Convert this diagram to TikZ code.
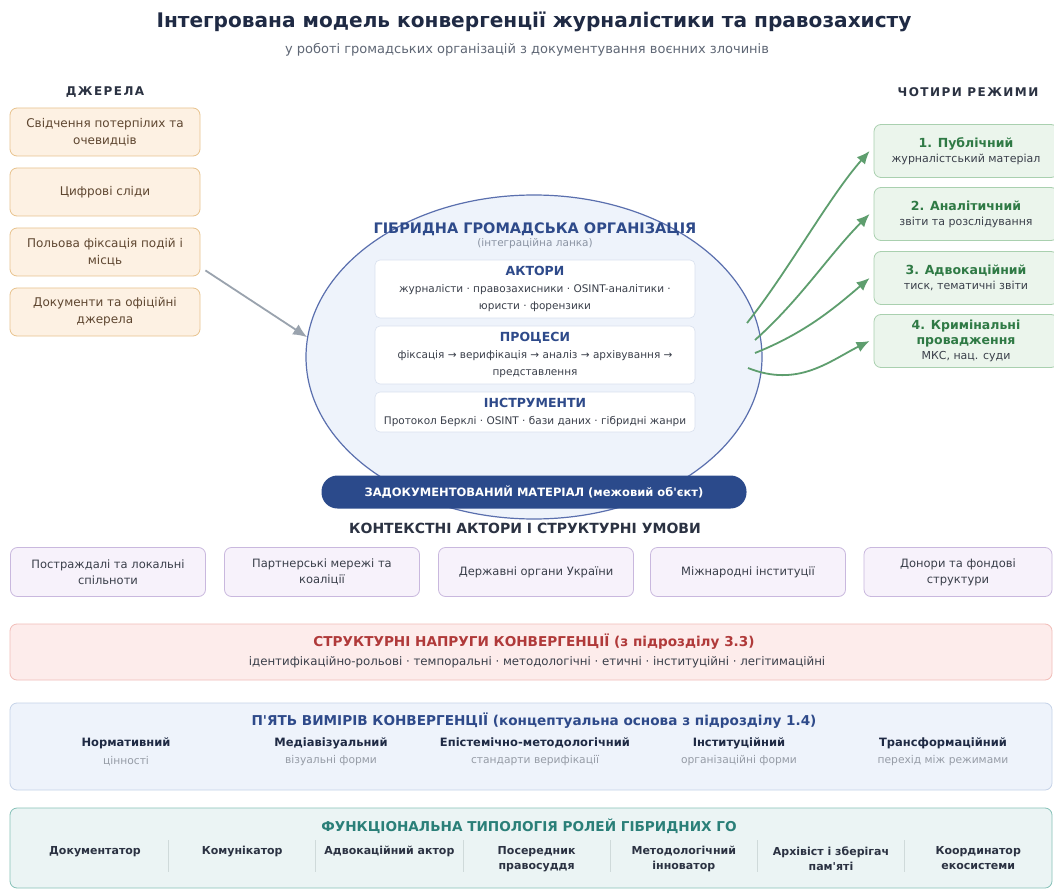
\documentclass[tikz,border=0pt]{standalone}
\usepackage{fontspec}
\setmainfont{DejaVu Sans}
\newfontfamily\spacedfont[LetterSpace=12]{DejaVu Sans}
\usetikzlibrary{shapes.geometric,arrows.meta,positioning}
\definecolor{titlenavy}{HTML}{1F2A44}
\definecolor{subgray}{HTML}{5F6775}
\definecolor{headdark}{HTML}{2B3242}
\definecolor{srcfill}{HTML}{FDF1E3}
\definecolor{srcline}{HTML}{E8C38E}
\definecolor{srctext}{HTML}{5E4630}
\definecolor{arrowgray}{HTML}{9AA3AE}
\definecolor{hubfill}{HTML}{EEF3FB}
\definecolor{hubline}{HTML}{5A6FAE}
\definecolor{hubblue}{HTML}{2E4A8A}
\definecolor{hubgray}{HTML}{8A93A3}
\definecolor{cardline}{HTML}{D8E0EE}
\definecolor{pillblue}{HTML}{2B4A8B}
\definecolor{modefill}{HTML}{EBF5EC}
\definecolor{modeline}{HTML}{A9D0AF}
\definecolor{modegreen}{HTML}{2F7A45}
\definecolor{arrowgreen}{HTML}{5E9E6E}
\definecolor{ctxfill}{HTML}{F7F2FB}
\definecolor{ctxline}{HTML}{C9B8DE}
\definecolor{tensfill}{HTML}{FDECEB}
\definecolor{tensline}{HTML}{F1BDB8}
\definecolor{tensred}{HTML}{B03A3A}
\definecolor{dimfill}{HTML}{EEF3FB}
\definecolor{dimline}{HTML}{C6D3E8}
\definecolor{dimgray}{HTML}{969CA6}
\definecolor{typofill}{HTML}{EBF4F4}
\definecolor{typoline}{HTML}{86C1B8}
\definecolor{typoteal}{HTML}{2A7F78}
\definecolor{sepgray}{HTML}{CFDADA}
\definecolor{bodytext}{HTML}{3A3F4A}
\newcommand{\fsz}[2]{\fontsize{#1}{#2}\selectfont}
\newcommand{\modetitle}{\bfseries\fsz{12.5}{16}\color{modegreen}}

\begin{document}
\begin{tikzpicture}[x=1pt,y=-1pt,
    srcbox/.style={draw=srcline,fill=srcfill,line width=0.8pt,rounded corners=7pt,
      minimum width=190pt,minimum height=48pt,align=center,text=srctext,font=\fsz{12}{17}},
    card/.style={draw=cardline,fill=white,line width=0.6pt,rounded corners=5pt,
      minimum width=320pt,align=center,text=bodytext,font=\fsz{10.5}{17}},
    modebox/.style={draw=modeline,fill=modefill,line width=0.8pt,rounded corners=7pt,
      minimum width=184pt,minimum height=53pt,align=center,text=bodytext,font=\fsz{11}{15}},
    ctxbox/.style={draw=ctxline,fill=ctxfill,line width=0.8pt,rounded corners=7pt,
      minimum height=49pt,align=center,text=bodytext,font=\fsz{11.5}{16}},
    band/.style={line width=0.8pt,rounded corners=7pt,minimum width=1042pt},
    seclabel/.style={font=\spacedfont\bfseries\fsz{12}{14},text=headdark},
    bandtitle/.style={font=\bfseries\fsz{13.6}{16}},
    flowin/.style={draw=arrowgray,line width=1.8pt,-{Latex[length=14pt,width=12pt]}},
    flowout/.style={draw=arrowgreen,line width=1.8pt,-{Latex[length=13pt,width=11pt]}}]
  \clip (0,0) rectangle (1054,890);
  \fill[white] (0,0) rectangle (1054,890);

  \node[font=\bfseries\fsz{20.1}{23},text=titlenavy] (title) at (534,22)
    {Інтегрована модель конвергенції журналістики та правозахисту};
  \node[font=\fsz{13}{15},text=subgray] (subtitle) at (527,50)
    {у роботі громадських організацій з документування воєнних злочинів};

  % sources
  \node[seclabel] (srchead) at (105,92) {ДЖЕРЕЛА};
  \foreach \y/\name/\txt in {
    132/src1/Свідчення потерпілих та\\очевидців,
    192/src2/Цифрові сліди,
    252/src3/Польова фіксація подій і\\місць,
    312/src4/Документи та офіційні\\джерела}
    \node[srcbox] (\name) at (105,\y) {\txt};

  % hybrid organisation
  \node[ellipse,draw=hubline,fill=hubfill,line width=1.2pt,minimum width=456pt,
    minimum height=324pt,inner sep=0pt] (hub) at (534,357) {};
  \node[font=\bfseries\fsz{14.5}{17},text=hubblue] (hubtitle) at (535,229)
    {ГІБРИДНА ГРОМАДСЬКА ОРГАНІЗАЦІЯ};
  \node[font=\fsz{10.5}{13},text=hubgray] (hubsub) at (535,244) {(інтеграційна ланка)};
  \node[card,minimum height=58pt] (actors) at (535,289)
    {{\bfseries\fsz{12.5}{17}\color{hubblue}АКТОРИ}\\журналісти · правозахисники · OSINT-аналітики ·\\юристи · форензики};
  \node[card,minimum height=58pt] (process) at (535,355)
    {{\bfseries\fsz{12.5}{17}\color{hubblue}ПРОЦЕСИ}\\фіксація → верифікація → аналіз → архівування →\\представлення};
  \node[card,minimum height=40pt] (tools) at (535,412)
    {{\bfseries\fsz{12.5}{17}\color{hubblue}ІНСТРУМЕНТИ}\\Протокол Берклі · OSINT · бази даних · гібридні жанри};
  \node[fill=pillblue,rounded corners=16pt,minimum width=425pt,minimum height=33pt,
    text=white,font=\bfseries\fsz{11.5}{14}] (material) at (534,492)
    {ЗАДОКУМЕНТОВАНИЙ МАТЕРІАЛ (межовий об\textquotesingle єкт)};

  \draw[flowin] ([shift={(5,-6)}]src3.south east) -- (hub.175);

  % four modes
  \node[seclabel] (modehead) at (968,92) {ЧОТИРИ РЕЖИМИ};
  \foreach \y/\name/\head/\sub in {
    151/m1/\modetitle 1. Публічний/журналістський матеріал,
    214/m2/\modetitle 2. Аналітичний/звіти та розслідування,
    278/m3/\modetitle 3. Адвокаційний/{тиск, тематичні звіти},
    341/m4/\modetitle 4. Кримінальні\\\modetitle провадження/{МКС, нац. суди}}
    \node[modebox] (\name) at (966,\y) {\head\\\sub};

  \coordinate (out1) at (747,323);
  \coordinate (out2) at (755,340);
  \coordinate (out3) at (755,353);
  \coordinate (out4) at (748,368);
  \draw[flowout] (out1) .. controls +(40,-50) and +(-40,45) .. ([xshift=-4pt]m1.west);
  \draw[flowout] (out2) .. controls +(45,-40) and +(-40,40) .. ([xshift=-4pt]m2.west);
  \draw[flowout] (out3) .. controls +(50,-20) and +(-35,30) .. ([xshift=-4pt]m3.west);
  \draw[flowout] (out4) .. controls +(50,20) and +(-40,20) .. ([xshift=-4pt]m4.west);

  % context
  \node[font=\bfseries\fsz{14}{16},text=headdark] (ctxhead) at (525,528)
    {КОНТЕКСТНІ АКТОРИ І СТРУКТУРНІ УМОВИ};
  \foreach \x/\w/\name/\txt in {
    108/195/ctx1/Постраждалі та локальні\\спільноти,
    322/195/ctx2/Партнерські мережі та\\коаліції,
    536/195/ctx3/Державні органи України,
    748/195/ctx4/Міжнародні інституції,
    958/188/ctx5/Донори та фондові\\структури}
    \node[ctxbox,minimum width=\w pt] (\name) at (\x,572) {\txt};

  % tensions
  \node[band,draw=tensline,fill=tensfill,minimum height=56pt] (tension) at (531,652) {};
  \node[bandtitle,text=tensred] (tenstitle) at (534,642)
    {СТРУКТУРНІ НАПРУГИ КОНВЕРГЕНЦІЇ (з підрозділу 3.3)};
  \node[font=\fsz{11.8}{14},text=bodytext] (tenslist) at (537,662)
    {ідентифікаційно-рольові · темпоральні · методологічні · етичні · інституційні · легітимаційні};

  % five dimensions
  \node[band,draw=dimline,fill=dimfill,minimum height=87pt] (dims) at (531,746.5) {};
  \node[bandtitle,text=hubblue] (dimtitle) at (534,721)
    {П\textquotesingle ЯТЬ ВИМІРІВ КОНВЕРГЕНЦІЇ (концептуальна основа з підрозділу 1.4)};
  \foreach \x/\name/\head/\sub in {
    126/dim1/Нормативний/цінності,
    331/dim2/Медіавізуальний/візуальні форми,
    535/dim3/Епістемічно-методологічний/стандарти верифікації,
    739/dim4/Інституційний/організаційні форми,
    943/dim5/Трансформаційний/перехід між режимами}{
    \node[font=\bfseries\fsz{11.5}{14},text=titlenavy] (\name) at (\x,743) {\head};
    \node[font=\fsz{10.7}{13},text=dimgray] (\name sub) at (\x,761) {\sub};
  }

  % roles
  \node[band,draw=typoline,fill=typofill,minimum height=80pt] (roles) at (531,848) {};
  \node[bandtitle,text=typoteal] (roletitle) at (529,826)
    {ФУНКЦІОНАЛЬНА ТИПОЛОГІЯ РОЛЕЙ ГІБРИДНИХ ГО};
  \foreach \i/\txt in {0/Документатор,1/Комунікатор,2/Адвокаційний актор,
    3/Посередник\\правосуддя,4/Методологічний\\інноватор,
    5/Архівіст і зберігач\\пам\textquotesingle яті,6/Координатор\\екосистеми}
    \node[font=\bfseries\fsz{11}{15},text=headdark,align=center,anchor=north] (role\i)
      at (95+147.2*\i,843) {\txt};
  \foreach \i in {1,...,6}
    \draw[sepgray,line width=0.8pt] (21.4+147.2*\i,840) -- ++(0,32);
\end{tikzpicture}
\end{document}
